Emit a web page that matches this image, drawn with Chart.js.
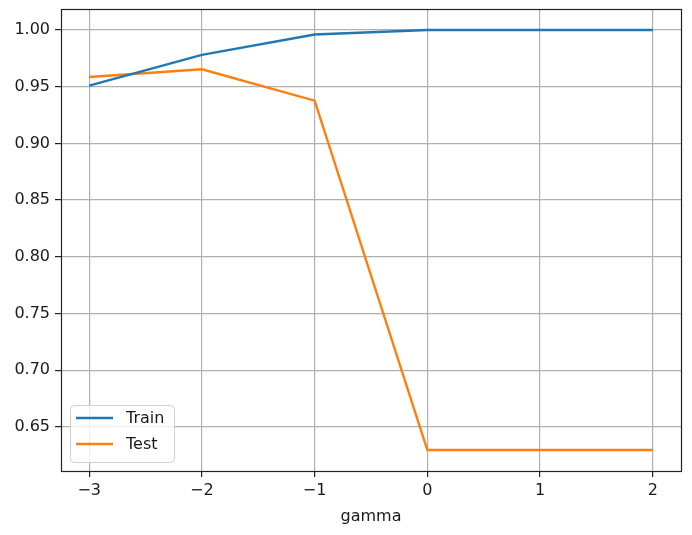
<!DOCTYPE html>
<html>
<head>
<meta charset="utf-8">
<script src="https://cdn.jsdelivr.net/npm/chart.js@4.4.0/dist/chart.umd.min.js"></script>
<style>
  html, body { margin: 0; padding: 0; background: #fff; }
  #wrap { width: 692px; height: 535px; }
</style>
</head>
<body>
<div id="wrap"><canvas id="chart"></canvas></div>
<script>
// Datos
const gammaValues = [-3, -2, -1, 0, 1, 2];
const trainScores = [0.951, 0.978, 0.996, 1.0, 1.0, 1.0];
const testScores = [0.9585, 0.9653, 0.9377, 0.6296, 0.6296, 0.6296];
const xTicks = [-3, -2, -1, 0, 1, 2];
const yTicks = [0.65, 0.70, 0.75, 0.80, 0.85, 0.90, 0.95, 1.00];
const seriesLabels = ['Train', 'Test'];

const FONT = "'DejaVu Sans', sans-serif";
const TEXT = '#1a1a1a';

// Marco completo y leyenda estilo matplotlib
const framePlugin = {
    id: 'frame',
    afterDraw(chart) {
        const ctx = chart.ctx;
        const a = chart.chartArea;
        ctx.save();
        ctx.strokeStyle = '#222';
        ctx.lineWidth = 1.2;
        ctx.strokeRect(Math.round(a.left) + 0.5, Math.round(a.top) + 0.5,
            Math.round(a.right - a.left), Math.round(a.bottom - a.top));

        // Leyenda dentro del área (abajo a la izquierda)
        const x0 = a.left + 9, y0 = a.bottom - 66, w = 104, h = 57;
        ctx.fillStyle = 'rgba(255,255,255,0.8)';
        ctx.strokeStyle = '#d0d0d0';
        ctx.lineWidth = 1;
        ctx.beginPath();
        ctx.roundRect(x0 + 0.5, y0 + 0.5, w, h, 4);
        ctx.fill();
        ctx.stroke();
        ctx.font = '16px ' + FONT;
        ctx.textBaseline = 'middle';
        chart.data.datasets.forEach((ds, i) => {
            const ly = y0 + 13 + i * 26;
            ctx.strokeStyle = ds.borderColor;
            ctx.lineWidth = 2.4;
            ctx.beginPath();
            ctx.moveTo(x0 + 6, ly);
            ctx.lineTo(x0 + 43, ly);
            ctx.stroke();
            ctx.fillStyle = TEXT;
            ctx.fillText(ds.label, x0 + 56, ly + 1);
        });
        ctx.restore();
    }
};

const ctx = document.getElementById('chart').getContext('2d');
new Chart(ctx, {
    type: 'line',
    data: {
        datasets: [
            { label: seriesLabels[0], data: gammaValues.map((g, i) => ({ x: g, y: trainScores[i] })),
              borderColor: '#1f77b4', borderWidth: 2.4, pointRadius: 0, tension: 0, fill: false },
            { label: seriesLabels[1], data: gammaValues.map((g, i) => ({ x: g, y: testScores[i] })),
              borderColor: '#ff7f0e', borderWidth: 2.4, pointRadius: 0, tension: 0, fill: false }
        ]
    },
    options: {
        responsive: true,
        maintainAspectRatio: false,
        animation: false,
        layout: { padding: { top: 9, right: 11, bottom: 0, left: 0 } },
        plugins: { legend: { display: false }, tooltip: { enabled: false } },
        scales: {
            x: {
                type: 'linear',
                min: -3.25,
                max: 2.25,
                afterBuildTicks: s => { s.ticks = xTicks.map(v => ({ value: v })); },
                afterFit: s => { s.height = 64; s.paddingLeft = 0; s.paddingRight = 0; },
                grid: { color: '#b0b0b0', lineWidth: 1.2, tickColor: '#222', tickLength: 6, tickWidth: 1.2 },
                border: { display: false },
                ticks: {
                    color: TEXT, font: { family: FONT, size: 16 }, padding: 4, maxRotation: 0,
                    callback: v => String(v).replace('-', '\u2212')
                },
                title: { display: true, text: 'gamma', color: TEXT, font: { family: FONT, size: 16 }, padding: { top: 0, bottom: 9 } }
            },
            y: {
                min: 0.6111,
                max: 1.0185,
                afterBuildTicks: s => { s.ticks = yTicks.map(v => ({ value: v })); },
                afterFit: s => { s.width = 61; s.paddingTop = 0; s.paddingBottom = 0; },
                grid: { color: '#b0b0b0', lineWidth: 1.2, tickColor: '#222', tickLength: 6, tickWidth: 1.2 },
                border: { display: false },
                ticks: {
                    color: TEXT, font: { family: FONT, size: 16 }, padding: 5,
                    callback: v => v.toFixed(2)
                }
            }
        }
    },
    plugins: [framePlugin]
});
</script>
</body>
</html>
